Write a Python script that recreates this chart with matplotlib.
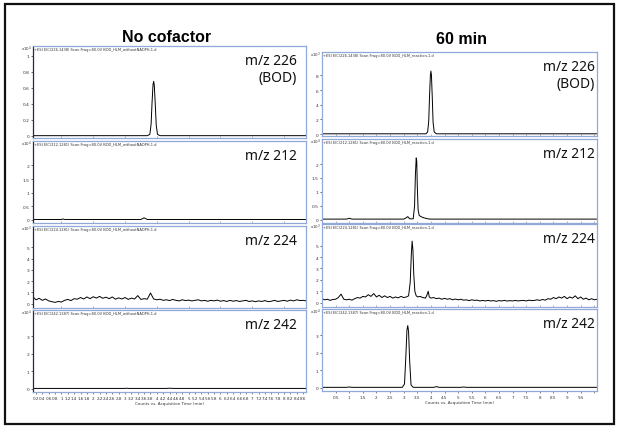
import matplotlib
matplotlib.use("Agg")
import matplotlib.pyplot as plt
import numpy as np
from matplotlib.patches import Rectangle

W, H = 623, 431

# retention times (min) and intensities
# row 1: m/z 226 (BOD), left in x10^4, right in x10^3
l226_t = [0.1, 3.7, 3.78, 3.82, 3.85, 3.88, 3.9, 3.92, 3.95, 3.98, 4.02, 4.1, 8.69]
l226_y = [0.004, 0.004, 0.02, 0.15, 0.42, 0.64, 0.68, 0.63, 0.4, 0.14, 0.02, 0.004, 0.004]
r226_t = [0.0, 3.82, 3.88, 3.92, 3.95, 3.98, 4.0, 4.02, 4.05, 4.08, 4.12, 4.2, 10.1]
r226_y = [0.05, 0.05, 0.3, 1.8, 5.2, 8.0, 8.6, 8.0, 5.0, 1.6, 0.3, 0.05, 0.05]

# row 2: m/z 212, x10^4
l212_t = [0.1, 1.0, 1.05, 1.1, 3.5, 3.6, 3.7, 8.69]
l212_y = [0.01, 0.01, 0.03, 0.01, 0.01, 0.07, 0.01, 0.01]
r212_t = [0.0, 0.9, 1.0, 1.1, 3.0, 3.08, 3.15, 3.22, 3.35, 3.4, 3.43, 3.46, 3.48, 3.5,
          3.53, 3.57, 3.62, 3.7, 3.8, 3.95, 10.1]
r212_y = [0.02, 0.02, 0.05, 0.02, 0.02, 0.06, 0.11, 0.03, 0.03, 0.5, 1.6, 2.22, 2.1, 1.2,
          0.35, 0.15, 0.12, 0.08, 0.05, 0.02, 0.02]

# row 3: m/z 224, x10^3 (noisy baseline sampled every 0.1 min)
l224_y = [0.62, 0.35, 0.48, 0.3, 0.42, 0.25, 0.18, 0.12, 0.2, 0.15,
          0.3, 0.38, 0.28, 0.45, 0.4, 0.55, 0.42, 0.6, 0.45, 0.62,
          0.5, 0.65, 0.48, 0.58, 0.45, 0.6, 0.4, 0.52, 0.42, 0.55,
          0.38, 0.5, 0.42, 0.72, 0.38, 0.45, 0.4, 0.95, 0.42, 0.35,
          0.4, 0.3, 0.35, 0.28, 0.38, 0.3, 0.25, 0.35, 0.28, 0.32,
          0.25, 0.3, 0.35, 0.25, 0.3, 0.22, 0.3, 0.25, 0.32, 0.22,
          0.28, 0.2, 0.3, 0.22, 0.28, 0.2, 0.25, 0.3, 0.2, 0.25,
          0.18, 0.25, 0.2, 0.28, 0.18, 0.22, 0.3, 0.2, 0.25, 0.3,
          0.22, 0.32, 0.25, 0.35, 0.28, 0.3, 0.25]
l224_t = np.round(0.1 + 0.1 * np.arange(len(l224_y)), 2)

r224_pre_y = [0.35, 0.25, 0.3, 0.2, 0.28, 0.3, 0.45, 0.75, 0.3, 0.25,
              0.3, 0.22, 0.35, 0.45, 0.4, 0.55, 0.5, 0.7, 0.55, 0.8,
              0.5, 0.65, 0.45, 0.6, 0.45, 0.55, 0.4, 0.5, 0.42, 0.55,
              0.45, 0.5]
r224_pre_t = np.round(0.1 * np.arange(len(r224_pre_y)), 2)
r224_pk_t = [3.18, 3.24, 3.28, 3.31, 3.34, 3.37, 3.41, 3.46, 3.52, 3.6, 3.7, 3.8, 3.86, 3.9, 3.94, 4.0]
r224_pk_y = [0.6, 1.8, 4.2, 5.4, 4.6, 2.5, 1.0, 0.6, 0.5, 0.55, 0.45, 0.4, 0.7, 1.0, 0.5, 0.4]
r224_post_y = [0.45, 0.35, 0.4, 0.3, 0.38, 0.3, 0.35, 0.25, 0.32, 0.25,
               0.3, 0.22, 0.25, 0.18, 0.25, 0.2, 0.22, 0.15, 0.2, 0.15,
               0.2, 0.15, 0.18, 0.12, 0.18, 0.15, 0.2, 0.14, 0.18, 0.15,
               0.2, 0.15, 0.18, 0.2, 0.15, 0.22, 0.18, 0.2, 0.25, 0.2,
               0.28, 0.22, 0.35, 0.3, 0.45, 0.35, 0.5, 0.4, 0.55, 0.35,
               0.5, 0.4, 0.6, 0.35, 0.5, 0.3, 0.4, 0.25, 0.35, 0.25, 0.3]
r224_post_t = np.round(4.1 + 0.1 * np.arange(len(r224_post_y)), 2)
r224_t = np.concatenate([r224_pre_t, r224_pk_t, r224_post_t])
r224_y = np.concatenate([r224_pre_y, r224_pk_y, r224_post_y])

# row 4: m/z 242, x10^4
l242_t = [0.1, 3.0, 3.05, 3.1, 4.3, 4.4, 4.5, 8.69]
l242_y = [0.005, 0.005, 0.02, 0.005, 0.005, 0.02, 0.005, 0.005]
r242_t = [0.0, 0.9, 1.0, 1.1, 2.95, 3.03, 3.08, 3.12, 3.15, 3.18, 3.22, 3.27, 3.35,
          4.1, 4.2, 4.3, 5.1, 5.2, 5.3, 10.1]
r242_y = [0.01, 0.01, 0.03, 0.01, 0.01, 0.2, 1.8, 3.3, 3.55, 3.2, 1.5, 0.15, 0.01,
          0.01, 0.05, 0.01, 0.01, 0.03, 0.01, 0.01]

mz_labels = ["m/z 226\n(BOD)", "m/z 212", "m/z 224", "m/z 242"]
eic = ["226.1438", "212.1281", "224.1281", "242.1387"]
left_ylim = [(-0.025, 1.12), (-0.12, 2.9), (-0.38, 6.9), (-0.2, 4.5)]
right_ylim = [(-0.25, 11.2), (-0.12, 2.9), (-0.38, 6.9), (-0.2, 4.5)]
left_yticks = [[0, 0.2, 0.4, 0.6, 0.8, 1], [0, 0.5, 1, 1.5, 2], [0, 1, 2, 3, 4, 5], [0, 1, 2, 3]]
right_yticks = [[0, 2, 4, 6, 8], [0, 0.5, 1, 1.5, 2], [0, 1, 2, 3, 4, 5], [0, 1, 2, 3]]
left_exp = [4, 4, 3, 4]
right_exp = [3, 4, 3, 4]

left_x = (33, 306)
right_x = (322, 597)
left_rows = [(47, 139), (142, 224), (227, 309), (311, 393)]
right_rows = [(53, 137), (140, 224), (225, 308), (310, 392)]
left_xlim = (0.106, 8.69)
right_xlim = (0.0, 10.1)

left_data = [(l226_t, l226_y), (l212_t, l212_y), (l224_t, l224_y), (l242_t, l242_y)]
right_data = [(r226_t, r226_y), (r212_t, r212_y), (r224_t, r224_y), (r242_t, r242_y)]

fig = plt.figure(figsize=(W / 100, H / 100), dpi=100)
fig.patch.set_facecolor("white")
fig.add_artist(Rectangle((5 / W, 1 - 425 / H), 609 / W, 420 / H, transform=fig.transFigure,
                         fill=False, lw=1.6, ec="#111111"))

box_col = "#8fa9d8"


def fmt(v):
    return ("%.1f" % v).rstrip("0").rstrip(".")


def panel(xs, ys, xlim, data, ylim, yticks, expo, i, right):
    x0, x1 = xs
    y0, y1 = ys
    ax = fig.add_axes([x0 / W, 1 - y1 / H, (x1 - x0) / W, (y1 - y0) / H])
    t, y = data
    ax.plot(t, y, color="black", lw=0.7)
    ax.set_xlim(*xlim)
    ax.set_ylim(*ylim)
    for s in ax.spines.values():
        s.set_color(box_col)
        s.set_linewidth(0.9)
    if not right:
        ax.spines["left"].set_color("#1d2a48")
    ax.set_yticks(yticks)
    ax.set_yticklabels([fmt(v) for v in yticks], fontsize=3.2, color="#333333")
    ax.tick_params(axis="y", length=1.5, width=0.5, pad=1, color="#333333")
    if right:
        xt = [0.5 * k for k in range(1, 21)]
        xl = [fmt(v) if v < 10 else "" for v in xt]
    else:
        xt = [0.2 * k for k in range(1, 44)]
        xl = [fmt(v) for v in xt]
    if i == 3:
        ax.set_xticks(xt)
        ax.set_xticklabels(xl, fontsize=3.0, color="#333333")
        ax.tick_params(axis="x", length=1.5, width=0.5, pad=1.5, color="#555555")
        ax.set_xlabel("Counts vs. Acquisition Time (min)", fontsize=3.0, color="#333333", labelpad=0.5)
    else:
        ax.set_xticks([v for v in xt if abs(v - round(v)) < 1e-6] if not right else xt)
        ax.set_xticklabels([])
        ax.tick_params(axis="x", direction="in", length=1.2, width=0.4, color="#777777")
    # header line of the data file
    src = "BOD_HLM_reaction-1.d" if right else "BOD_HLM_withoutNADPH-1.d"
    ax.text(0.004, 0.985, "+ESI EIC(%s) Scan Frag=80.0V %s" % (eic[i], src),
            transform=ax.transAxes, fontsize=2.6, va="top", ha="left", color="#333333")
    fig.text((x0 - 12) / W, 1 - (y0 + 2) / H, "x10$^{%d}$" % expo, fontsize=2.8,
             color="#333333", va="center", ha="left")
    tx = (x1 - 2) if right else (x1 - 9)
    fig.text(tx / W, 1 - (y0 + 7) / H, mz_labels[i], fontsize=10, family="Noto Sans",
             ha="right", va="top", linespacing=1.15, color="#111111")
    return ax


for i in range(4):
    panel(left_x, left_rows[i], left_xlim, left_data[i], left_ylim[i], left_yticks[i],
          left_exp[i], i, False)
    panel(right_x, right_rows[i], right_xlim, right_data[i], right_ylim[i], right_yticks[i],
          right_exp[i], i, True)

fig.text(167 / W, 1 - 38 / H, "No cofactor", fontsize=11.5, fontweight="bold",
         family="Liberation Sans", ha="center", va="center")
fig.text(461 / W, 1 - 40 / H, "60 min", fontsize=11.5, fontweight="bold",
         family="Liberation Sans", ha="center", va="center")

fig.savefig("out.png", dpi=100)
